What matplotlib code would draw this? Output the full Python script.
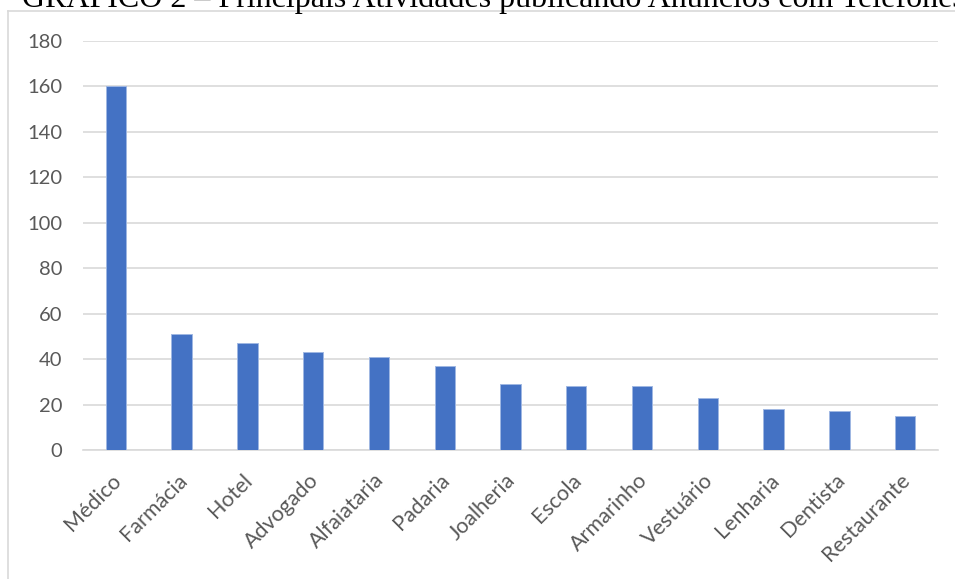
import numpy as np
import matplotlib.pyplot as plt
import matplotlib.transforms as mtransforms
from matplotlib.lines import Line2D

categorias = ['Médico', 'Farmácia', 'Hotel', 'Advogado', 'Alfaiataria', 'Padaria',
              'Joalheria', 'Escola', 'Armarinho', 'Vestuário', 'Lenharia',
              'Dentista', 'Restaurante']
valores = [160, 51, 47, 43, 41, 37, 29, 28, 28, 23, 18, 17, 15]
titulo = 'GRÁFICO 2 – Principais Atividades publicando Anúncios com Telefones'

W, H = 955, 579
fig = plt.figure(figsize=(W / 100, H / 100), dpi=100)

# moldura cinza (só esquerda e topo aparecem)
fig.add_artist(Line2D([8 / W, 8 / W], [0, 1 - 11 / H], color='#d9d9d9', lw=1.2,
                      transform=fig.transFigure))
fig.add_artist(Line2D([8 / W, 1], [1 - 11 / H, 1 - 11 / H], color='#d9d9d9', lw=1.2,
                      transform=fig.transFigure))

fig.text(22 / W, 1 - 7 / H, titulo, fontfamily='Liberation Serif', fontsize=23,
         ha='left', va='baseline', color='black')

ax = fig.add_axes([83 / W, 1 - 450 / H, (938 - 83) / W, (450 - 41) / H])
x = np.arange(len(categorias))
ax.bar(x, valores, width=0.31, color='#4472C4', edgecolor='#9fb7e3', linewidth=0.7,
       zorder=3)

ax.set_xlim(-0.5, len(categorias) - 0.5)
ax.set_ylim(0, 180)
ax.set_yticks(np.arange(0, 181, 20))
ax.grid(axis='y', color='#d9d9d9', linewidth=1.2, zorder=0)
for s in ['top', 'right', 'left']:
    ax.spines[s].set_visible(False)
ax.spines['bottom'].set_color('#d9d9d9')
ax.spines['bottom'].set_linewidth(1.2)
ax.tick_params(length=0, colors='#595959', labelsize=14.5)
ax.tick_params(axis='y', pad=15)
ax.set_xticks(x)
ax.set_xticklabels(categorias, rotation=45, ha='right', va='top',
                   rotation_mode='anchor', fontfamily='Lato', fontsize=15.5,
                   color='#595959')
for t in ax.get_yticklabels():
    t.set_fontfamily('Lato')
ax.tick_params(axis='x', pad=13)

# pequeno deslocamento dos rótulos para a esquerda
desloc = mtransforms.ScaledTranslation(-5 / 100, -2 / 100, fig.dpi_scale_trans)
for t in ax.get_xticklabels():
    t.set_transform(t.get_transform() + desloc)

fig.savefig('out.png', dpi=100)
